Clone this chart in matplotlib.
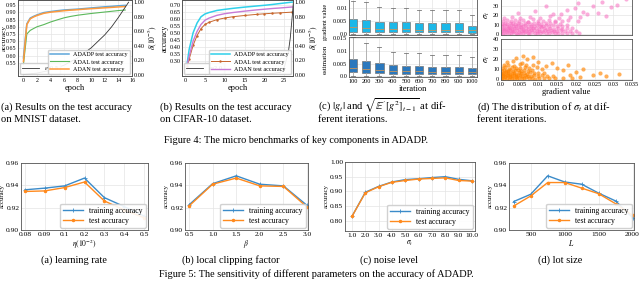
import numpy as np
import matplotlib
matplotlib.use('Agg')
import matplotlib.pyplot as plt
from matplotlib.ticker import FormatStrFormatter

plt.rcParams['font.family'] = 'Liberation Serif'
plt.rcParams['mathtext.fontset'] = 'stix'

# ---- Figure 4 (a): MNIST
mn_epoch = [0, 0.5, 1, 1.5, 2, 3, 4, 5, 6, 7, 8, 9, 10, 11, 12, 13, 14, 15]
mn_adadp = [0.585, 0.82, 0.86, 0.872, 0.882, 0.898, 0.905, 0.911, 0.916, 0.919,
            0.922, 0.926, 0.930, 0.934, 0.938, 0.941, 0.945, 0.948]
mn_adal = [0.54, 0.75, 0.775, 0.788, 0.80, 0.815, 0.833, 0.848, 0.862, 0.872,
           0.880, 0.886, 0.892, 0.897, 0.902, 0.907, 0.912, 0.916]
mn_adan = [0.56, 0.815, 0.855, 0.868, 0.878, 0.893, 0.901, 0.906, 0.911, 0.915,
           0.918, 0.922, 0.925, 0.928, 0.931, 0.934, 0.937, 0.94]
mn_delta_ep = [0, 2, 4, 6, 8, 10, 12, 13, 14, 15, 15.5]
mn_delta = [0, 0.02, 0.06, 0.13, 0.23, 0.37, 0.55, 0.66, 0.79, 0.93, 1.0]

# ---- Figure 4 (b): CIFAR-10
cf_epoch = [0.5, 1, 2, 3, 4, 5, 6, 8, 10, 12, 15, 18, 20, 22, 24, 27]
cf_adadp = [0.28, 0.38, 0.50, 0.57, 0.615, 0.635, 0.645, 0.66, 0.668, 0.675,
            0.684, 0.692, 0.697, 0.703, 0.71, 0.72]
cf_adal = [0.26, 0.31, 0.41, 0.48, 0.53, 0.56, 0.575, 0.594, 0.606, 0.615,
           0.624, 0.632, 0.636, 0.64, 0.643, 0.648]
cf_adan = [0.27, 0.33, 0.44, 0.51, 0.56, 0.59, 0.605, 0.625, 0.637, 0.645,
           0.655, 0.664, 0.669, 0.674, 0.678, 0.685]
cf_delta_ep = [0.5, 5, 10, 15, 20, 22, 24, 25, 26, 26.5, 27, 27.3]
cf_delta = [0, 0, 0, 0.002, 0.008, 0.015, 0.03, 0.1, 0.3, 0.5, 0.8, 1.0]

# ---- Figure 4 (c): box stats per iteration
iters = [100, 200, 300, 400, 500, 600, 700, 800, 900, 1000]
grad_q1 = [0.001, 0.001, 0.001, 0.001, 0.001, 0.0008, 0.0008, 0.0008, 0.0008, 0.0006]
grad_med = [0.0028, 0.0025, 0.002, 0.002, 0.002, 0.0018, 0.0018, 0.0018, 0.0018, 0.0015]
grad_q3 = [0.006, 0.0055, 0.0048, 0.0047, 0.0048, 0.0042, 0.0043, 0.0041, 0.0043, 0.0032]
grad_hi = [0.0128, 0.0122, 0.0105, 0.010, 0.010, 0.0092, 0.0093, 0.0092, 0.0093, 0.0072]
est_q1 = [0.0015, 0.0013, 0.0012, 0.001, 0.0009, 0.0009, 0.0008, 0.0008, 0.0008, 0.0007]
est_med = [0.0033, 0.003, 0.0025, 0.0022, 0.002, 0.0019, 0.0016, 0.0018, 0.0017, 0.0016]
est_q3 = [0.007, 0.006, 0.0053, 0.0045, 0.004, 0.0042, 0.0036, 0.0038, 0.0037, 0.0033]
est_hi = [0.0155, 0.013, 0.0115, 0.0097, 0.009, 0.0092, 0.0082, 0.0085, 0.0085, 0.0075]

# ---- Figure 4 (d): scatter (gradient value in 1e-3, sigma_t)
pink_x = [0.1, 0.6, 1.0, 1.7, 2.1, 2.8, 3.3, 3.9, 4.4, 5.2, 5.8, 6.3, 7.1, 7.6, 8.4, 9.0, 9.7, 10.5, 11.3, 12.0,
          12.9, 13.6, 14.5, 15.3, 16.4, 17.6, 19.0, 20.8,
          0.3, 0.8, 1.4, 1.9, 2.5, 3.0, 3.6, 4.2, 4.9, 5.5, 6.0, 6.7, 7.4, 8.0, 8.8, 9.5, 10.2, 11.0, 11.7, 12.5,
          13.3, 14.1, 15.0, 16.0, 17.2, 18.5, 20.1,
          0.2, 0.7, 1.2, 1.8, 2.3, 2.9, 3.5, 4.1, 4.7, 5.3, 6.0, 6.6, 7.2, 7.9, 8.6, 9.3, 10.1, 10.8, 11.6, 12.4,
          13.2, 14.2, 15.1, 16.3, 17.5, 19.1,
          0.4, 0.9, 1.5, 2.1, 2.7, 3.3, 3.9, 4.6, 5.2, 5.9, 6.5, 7.2, 8.0, 8.7, 9.5, 10.3, 11.1, 12.0, 12.9, 13.9,
          15.0, 16.2, 17.6,
          0.3, 1.0, 1.6, 2.4, 3.1, 3.8, 4.6, 5.4, 6.3, 7.1, 8.0, 8.9, 9.9, 10.8, 11.9, 13.0, 14.3, 15.8,
          0.5, 1.5, 2.6, 3.7, 4.8, 6.0, 7.3, 8.5, 9.9, 11.2, 12.8, 14.5, 16.3, 18.0, 20.5,
          0.8, 2.9, 5.1, 7.7, 10.4, 13.0, 15.6, 18.4, 21.0,
          4.5, 9.0, 14.0, 17.5, 19.8, 22.0, 24.5, 27.0, 29.5, 31.0, 33.5, 12.0, 20.5, 16.0, 23.0, 26.0, 28.0]
pink_y = [0.8, 1.5, 0.4, 1.9, 1.1, 0.6, 1.7, 1.2, 0.3, 1.6, 0.9, 2.0, 1.3, 0.5, 1.8, 1.0, 0.7, 1.4, 1.9, 0.6,
          1.2, 1.7, 0.9, 1.5, 0.8, 1.3, 1.1, 0.9,
          3.2, 4.1, 2.7, 3.8, 4.4, 2.9, 3.5, 4.0, 2.6, 3.7, 4.3, 3.1, 2.8, 3.9, 4.2, 3.3, 2.7, 3.6, 4.1, 3.0,
          3.8, 2.9, 3.4, 4.0, 3.2, 3.7, 2.8,
          5.6, 6.4, 5.1, 6.8, 5.9, 5.3, 6.6, 6.0, 5.4, 7.0, 5.8, 6.3, 5.2, 6.7, 5.9, 6.2, 5.5, 6.9, 6.1, 5.4,
          6.5, 5.8, 6.2, 5.6, 6.8, 5.9,
          8.1, 9.0, 8.5, 7.8, 9.3, 8.2, 8.8, 9.5, 7.9, 8.6, 9.2, 8.0, 8.9, 8.3, 9.4, 8.1, 8.7, 9.1, 8.4, 9.0,
          8.2, 8.8, 9.3,
          10.8, 11.6, 10.4, 12.0, 11.2, 10.6, 11.9, 10.9, 11.5, 12.3, 10.7, 11.4, 12.1, 10.9, 11.7, 11.1, 12.2, 11.0,
          13.5, 14.6, 13.2, 15.0, 13.9, 14.4, 13.1, 15.3, 14.0, 13.6, 14.8, 13.4, 14.2, 15.1, 13.8,
          17.0, 18.2, 16.8, 17.9, 17.3, 18.5, 16.9, 17.6, 18.0,
          22.0, 24.0, 21.0, 25.0, 27.0, 23.0, 30.0, 34.0, 28.0, 31.0, 37.0, 29.0, 33.0, 21.5, 21.0, 22.0, 19.0]
orange_x = [0.1, 0.4, 0.8, 1.2, 1.6, 2.1, 2.5, 3.0, 3.4, 3.9, 4.4, 4.9, 5.5, 6.1, 6.8, 7.5, 8.3, 9.2, 10.2, 11.4,
            12.8, 14.5, 16.5, 19.0,
            0.2, 0.6, 1.0, 1.5, 1.9, 2.4, 2.9, 3.4, 3.9, 4.5, 5.1, 5.7, 6.4, 7.1, 7.9, 8.8, 9.8, 11.0, 12.4, 14.0,
            0.1, 0.5, 0.9, 1.4, 1.9, 2.4, 2.9, 3.5, 4.1, 4.7, 5.4, 6.1, 6.9, 7.8, 8.8, 10.0, 11.5,
            0.3, 0.8, 1.3, 1.9, 2.5, 3.1, 3.8, 4.5, 5.3, 6.2, 7.2, 8.4,
            0.4, 1.2, 2.1, 3.0, 4.0, 5.1, 6.3, 7.6,
            0.7, 2.0, 3.5, 5.0, 6.8, 8.6,
            1.5, 3.2, 5.5, 7.0, 8.5, 6.0, 4.0, 10.0, 12.0, 13.5, 15.0, 16.5, 18.0, 20.0, 22.0, 24.5, 26.5, 28.0,
            31.5, 18.5, 21.0, 9.5, 11.0]
orange_y = [0.7, 1.4, 0.3, 1.8, 1.0, 0.5, 1.6, 1.2, 0.4, 1.9, 0.8, 1.5, 1.1, 0.6, 1.7, 0.9, 1.3, 0.5, 1.2, 0.8,
            1.4, 0.6, 1.0, 0.7,
            3.1, 4.0, 2.6, 3.7, 4.3, 2.8, 3.4, 4.1, 2.7, 3.6, 4.2, 3.0, 3.8, 2.9, 3.5, 4.0, 3.1, 3.6, 2.8, 3.3,
            5.5, 6.3, 5.0, 6.7, 5.8, 5.2, 6.5, 5.9, 5.3, 6.9, 5.7, 6.2, 5.4, 6.6, 5.8, 6.1, 5.6,
            8.0, 9.0, 8.4, 7.8, 9.3, 8.2, 8.8, 9.4, 7.9, 8.6, 8.2, 8.9,
            10.8, 11.6, 10.4, 11.9, 11.1, 10.6, 11.7, 10.9,
            13.6, 14.5, 13.2, 14.8, 13.9, 14.3,
            17.0, 18.5, 16.5, 20.5, 22.5, 23.0, 21.0, 17.0, 13.5, 16.0, 11.0, 9.0, 14.5, 7.5, 10.5, 4.0, 6.0, 3.0,
            5.5, 4.5, 2.5, 12.5, 10.0]

# ---- Figure 5: sensitivity
lr_labels = ['0.08', '0.09', '0.1', '0.2', '0.3', '0.4', '0.5']
lr_train = [0.936, 0.9375, 0.9395, 0.9465, 0.929, 0.921, 0.9125]
lr_test = [0.9345, 0.935, 0.938, 0.943, 0.926, 0.918, 0.911]
beta = [0.5, 1.0, 1.5, 2.0, 2.5, 3.0]
beta_train = [0.9225, 0.9415, 0.9485, 0.941, 0.9395, 0.922]
beta_test = [0.9215, 0.941, 0.9465, 0.9395, 0.939, 0.9205]
sigma = [1.0, 2.0, 3.0, 4.0, 5.0, 6.0, 7.0, 8.0, 9.0, 10.0]
sigma_train = [0.815, 0.897, 0.917, 0.932, 0.940, 0.943, 0.947, 0.950, 0.941, 0.936]
sigma_test = [0.815, 0.895, 0.916, 0.931, 0.937, 0.942, 0.944, 0.946, 0.937, 0.935]
lot = [250, 500, 750, 1000, 1250, 1500, 1750, 2000]
lot_train = [0.9255, 0.932, 0.9485, 0.943, 0.941, 0.933, 0.926, 0.911]
lot_test = [0.9215, 0.9305, 0.9425, 0.9425, 0.9375, 0.9325, 0.9235, 0.913]

W, H = 640, 282
fig = plt.figure(figsize=(6.4, 2.82), dpi=100)


def box(l, t, r, b):
    return fig.add_axes([l / W, 1 - b / H, (r - l) / W, (b - t) / H])


def style(ax, fs):
    ax.grid(True, color='#e4e4e4', lw=0.5)
    ax.set_axisbelow(True)
    for s in ax.spines.values():
        s.set_linewidth(0.6)
        s.set_color('#555555')
    ax.tick_params(length=0, pad=1.2, labelsize=fs)


def delta_axis(ax, ep, d, eps):
    ax2 = ax.twinx()
    ax2.plot(ep, d, color='#333333', lw=0.6, label=eps)
    ax2.set_ylim(-0.02, 1.03)
    ax2.set_yticks([0, 0.2, 0.4, 0.6, 0.8, 1.0])
    ax2.yaxis.set_major_formatter(FormatStrFormatter('%.2f'))
    ax2.tick_params(length=0, pad=1.2, labelsize=4.5)
    ax2.set_ylabel(r'$\delta(10^{-5})$', fontsize=5.5, labelpad=1)
    for s in ax2.spines.values():
        s.set_linewidth(0.6)
        s.set_color('#555555')
    return ax2


# (a) MNIST
ax = box(18, 0, 132, 76)
style(ax, 4.3)
l1, = ax.plot(mn_epoch, mn_adadp, color='#5da5da', lw=1.1, label='ADADP test accuracy')
l2, = ax.plot(mn_epoch, mn_adal, color='#5bb85b', lw=0.8, label='ADAL test accuracy')
l3, = ax.plot(mn_epoch, mn_adan, color='#ff9a3c', lw=1.1, label='ADAN test accuracy')
ax.set_xlim(-0.8, 16)
ax.set_xticks(range(0, 17, 2))
ax.set_ylim(0.46, 0.985)
ax.set_yticks(np.arange(0.55, 0.96, 0.05))
ax.yaxis.set_major_formatter(FormatStrFormatter('%.2f'))
ax.set_xlabel('epoch', fontsize=6, labelpad=1)
ax.set_ylabel('accuracy', fontsize=5.2)
ax.yaxis.set_label_coords(-0.098, 0.5)
ax2 = delta_axis(ax, mn_delta_ep, mn_delta, r'$\varepsilon$=0.5')
leg = ax2.legend(loc='lower left', fontsize=4.2, handlelength=3, borderpad=0.3,
                 borderaxespad=0.3, framealpha=0.9)
ax2.add_artist(leg)
ax2.legend(handles=[l1, l2, l3], loc='lower right', fontsize=4.4, handlelength=3,
           borderpad=0.35, labelspacing=0.35, borderaxespad=0.3, framealpha=0.9)

# (b) CIFAR-10
ax = box(182, 0, 293, 76)
style(ax, 4.5)
l1, = ax.plot(cf_epoch, cf_adadp, color='#2fd0ea', lw=1.1, label='ADADP test accuracy')
l2, = ax.plot(cf_epoch, cf_adal, color='#c8662c', lw=0.7, marker='.', ms=1.5,
              label='ADAL test accuracy')
l3, = ax.plot(cf_epoch, cf_adan, color='#c77ad6', lw=1.0, label='ADAN test accuracy')
ax.set_xlim(-0.8, 27.2)
ax.set_xticks(range(0, 26, 5))
ax.set_ylim(0.19, 0.735)
ax.set_yticks(np.arange(0.30, 0.71, 0.05))
ax.yaxis.set_major_formatter(FormatStrFormatter('%.2f'))
ax.set_xlabel('epoch', fontsize=6, labelpad=1)
ax.set_ylabel('accuracy', fontsize=5.5, labelpad=0.5)
ax2 = delta_axis(ax, cf_delta_ep, cf_delta, r'$\varepsilon$=2.0')
leg = ax2.legend(loc='lower left', fontsize=4.2, handlelength=3, borderpad=0.3,
                 borderaxespad=0.3, framealpha=0.9)
ax2.add_artist(leg)
ax2.legend(handles=[l1, l2, l3], loc='lower right', fontsize=4.4, handlelength=3,
           borderpad=0.35, labelspacing=0.35, borderaxespad=0.3, framealpha=0.9)


# (c) box plots
def boxes(ax, q1, med, q3, hi, color):
    stats = [dict(med=m, q1=a, q3=b, whislo=0.0, whishi=w, fliers=[])
             for a, m, b, w in zip(q1, med, q3, hi)]
    ax.bxp(stats, positions=iters, widths=62, patch_artist=True, showfliers=False,
           boxprops=dict(facecolor=color, edgecolor='#777777', lw=0.5),
           medianprops=dict(color='#c9955a', lw=0.6),
           whiskerprops=dict(color='#aaaaaa', lw=0.6),
           capprops=dict(color='#777777', lw=0.6))
    ax.set_xlim(70, 1038)


axc1 = box(349, -5, 477, 35)
style(axc1, 4.5)
boxes(axc1, grad_q1, grad_med, grad_q3, grad_hi, '#1cb8e8')
axc1.set_ylim(-0.0003, 0.015)
axc1.set_yticks([0, 0.005, 0.01])
axc1.set_yticklabels(['0.0', '0.005', '0.01'])
axc1.set_xticks(iters)
axc1.set_xticklabels([])
axc1.set_ylabel('gradient value', fontsize=4.5)
axc1.yaxis.set_label_coords(-0.165, 0.33)

axc2 = box(349, 37, 477, 77)
style(axc2, 4.5)
boxes(axc2, est_q1, est_med, est_q3, est_hi, '#2b78bd')
axc2.set_ylim(-0.0003, 0.0155)
axc2.set_yticks([0, 0.005, 0.01, 0.015])
axc2.set_yticklabels(['0.0', '0.005', '0.01', '0.015'])
axc2.set_xticks(iters)
axc2.set_xticklabels([str(i) for i in iters])
axc2.set_xlabel('iteration', fontsize=6, labelpad=1)
axc2.set_ylabel('estimation', fontsize=5)
axc2.yaxis.set_label_coords(-0.165, 0.45)

# (d) scatter
gx_ticks = [0, 0.005, 0.01, 0.015, 0.02, 0.025, 0.03, 0.035]
gx_labels = ['0.0', '0.005', '0.01', '0.015', '0.02', '0.025', '0.03', '0.035']
axd1 = box(501, -4, 632, 35)
style(axd1, 4.5)
axd1.scatter(np.array(pink_x) / 1000, pink_y, s=9, color='#f76cbf', alpha=0.55, lw=0)
axd1.set_xlim(0, 0.035)
axd1.set_ylim(-1, 40)
axd1.set_xticks(gx_ticks)
axd1.set_xticklabels([])
axd1.set_yticks([0, 10, 20, 30])
axd1.set_ylabel(r'$\sigma_t$', fontsize=6, labelpad=1)

axd2 = box(501, 39, 632, 80)
style(axd2, 4.5)
axd2.scatter(np.array(orange_x) / 1000, orange_y, s=9, color='#ff8400', alpha=0.65, lw=0)
axd2.set_xlim(0, 0.035)
axd2.set_ylim(-1, 40)
axd2.set_xticks(gx_ticks)
axd2.set_xticklabels(gx_labels)
axd2.set_yticks([0, 10, 20, 30, 40])
axd2.set_ylabel(r'$\sigma_t$', fontsize=6, labelpad=1)
axd2.set_xlabel('gradient value', fontsize=6, labelpad=1)


# Figure 5 panels
def sens(ax, x, train, test):
    style(ax, 5.4)
    ax.plot(x, train, color='#3b8bc9', lw=1.0, marker='+', ms=3, mew=0.6,
            label='training accuracy')
    ax.plot(x, test, color='#ff8a1e', lw=1.0, marker='.', ms=3, label='test accuracy')
    ax.set_ylabel('accuracy', fontsize=4.8, labelpad=1)
    ax.yaxis.set_major_formatter(FormatStrFormatter('%.2f'))
    ax.legend(loc='lower right', fontsize=5.6, handlelength=2.6, borderpad=0.35,
              labelspacing=0.3, borderaxespad=0.3, framealpha=0.9)


ax = box(21, 163, 148, 230)
sens(ax, range(len(lr_labels)), lr_train, lr_test)
ax.set_xticks(range(len(lr_labels)))
ax.set_xticklabels(lr_labels)
ax.set_xlim(-0.2, 6.2)
ax.set_ylim(0.90, 0.96)
ax.set_yticks([0.90, 0.92, 0.94, 0.96])
ax.set_xlabel(r'$\eta(10^{-2})$', fontsize=5.5, labelpad=1)

ax = box(185, 163, 308, 230)
sens(ax, beta, beta_train, beta_test)
ax.set_xticks(beta)
ax.xaxis.set_major_formatter(FormatStrFormatter('%.1f'))
ax.set_xlim(0.415, 3.02)
ax.set_ylim(0.90, 0.96)
ax.set_yticks([0.90, 0.92, 0.94, 0.96])
ax.set_xlabel(r'$\beta$', fontsize=5.5, labelpad=1)

ax = box(345, 162, 475, 231)
sens(ax, sigma, sigma_train, sigma_test)
ax.set_xticks(sigma)
ax.xaxis.set_major_formatter(FormatStrFormatter('%.1f'))
ax.set_xlim(0.475, 10.225)
ax.set_ylim(0.765, 1.0)
ax.set_yticks([0.80, 0.85, 0.90, 0.95, 1.00])
ax.set_xlabel(r'$\sigma_t$', fontsize=5.5, labelpad=1)

ax = box(509, 163, 634, 230)
sens(ax, lot, lot_train, lot_test)
ax.set_xticks([500, 1000, 1500, 2000])
ax.set_xlim(180, 2020)
ax.set_ylim(0.90, 0.96)
ax.set_yticks([0.90, 0.92, 0.94, 0.96])
ax.set_xlabel(r'$L$', fontsize=5.5, labelpad=1)

# captions
cap = dict(fontsize=7.6, va='center', ha='left')
fig.text(1 / W, 1 - 107 / H, '(a) Results on the test accuracy', **cap)
fig.text(1 / W, 1 - 119 / H, 'on MNIST dataset.', **cap)
fig.text(160 / W, 1 - 107 / H, '(b) Results on the test accuracy', **cap)
fig.text(160 / W, 1 - 119 / H, 'on CIFAR-10 dataset.', **cap)
fig.text(318 / W, 1 - 106 / H,
         r"(c) $|g_t|$ and $\sqrt{\mathbb{E}'[g^2]_{t-1}}$ at dif-", **cap)
fig.text(318 / W, 1 - 119 / H, 'ferent iterations.', **cap)
fig.text(477 / W, 1 - 107 / H, r'(d) The distribution of $\sigma_t$ at dif-', **cap)
fig.text(477 / W, 1 - 119 / H, 'ferent iterations.', **cap)
fig.text(296 / W, 1 - 140 / H, 'Figure 4: The micro benchmarks of key components in ADADP.',
         fontsize=7.4, ha='center', va='center')

cap2 = dict(fontsize=7.4, va='center', ha='center')
fig.text(74 / W, 1 - 260 / H, '(a) learning rate', **cap2)
fig.text(231 / W, 1 - 260 / H, '(b) local clipping factor', **cap2)
fig.text(389 / W, 1 - 260 / H, '(c) noise level', **cap2)
fig.text(560 / W, 1 - 260 / H, '(d) lot size', **cap2)
fig.text(316 / W, 1 - 274 / H,
         'Figure 5: The sensitivity of different parameters on the accuracy of ADADP.',
         fontsize=7.4, ha='center', va='center')

fig.savefig('out.png', dpi=100)
